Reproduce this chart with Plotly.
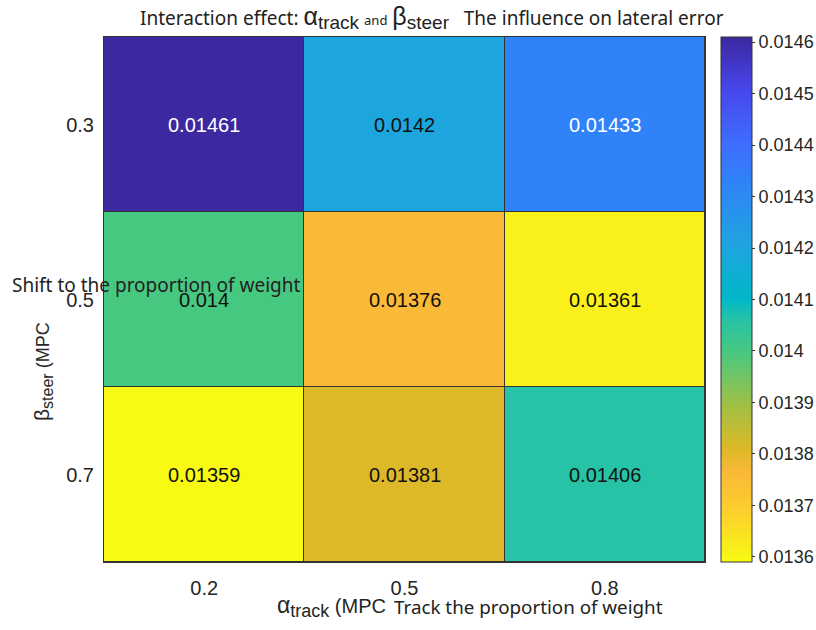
import plotly.graph_objects as go

# Weight levels and lateral-error results
alpha_track = ["0.2", "0.5", "0.8"]
beta_steer = ["0.3", "0.5", "0.7"]
lateral_error = [
    [0.01461, 0.0142, 0.01433],
    [0.014, 0.01376, 0.01361],
    [0.01359, 0.01381, 0.01406],
]
cbar_ticks = [0.0136, 0.0137, 0.0138, 0.0139, 0.014, 0.0141,
              0.0142, 0.0143, 0.0144, 0.0145, 0.0146]
z_min, z_max = 0.01359, 0.01461

# Parula-style map, reversed: yellow for low error, indigo for high error
parula_r = [
    [0.00, "rgb(248,250,20)"],
    [0.10, "rgb(252,206,46)"],
    [0.17, "rgb(250,185,55)"],
    [0.22, "rgb(218,185,40)"],
    [0.30, "rgb(160,192,70)"],
    [0.40, "rgb(72,200,128)"],
    [0.46, "rgb(40,195,165)"],
    [0.50, "rgb(0,184,200)"],
    [0.60, "rgb(30,165,222)"],
    [0.725, "rgb(48,130,248)"],
    [0.80, "rgb(63,108,253)"],
    [0.90, "rgb(71,70,235)"],
    [1.00, "rgb(60,40,160)"],
]

L, R, T, B = 104, 111, 37, 68
W, H = 816, 630
pw, ph = W - L - R, H - T - B


def px_x(x):
    return (x - L) / pw


def px_y(y):
    return (H - B - y) / ph


fig = go.Figure()
fig.add_trace(go.Heatmap(
    x=alpha_track, y=beta_steer, z=lateral_error,
    zmin=z_min, zmax=z_max, colorscale=parula_r,
    xgap=1, ygap=1,
    colorbar=dict(
        x=px_x(721), xanchor="left", xpad=0, ypad=0,
        y=0.5, yanchor="middle", len=1.0, lenmode="fraction",
        thickness=31, outlinewidth=1, outlinecolor="#333333",
        tickvals=cbar_ticks, ticktext=[f"{t:g}" for t in cbar_ticks],
        ticks="outside", ticklen=3, tickcolor="#333333",
        tickfont=dict(family="Liberation Sans, Arial", size=18, color="#262626"),
    ),
))

# Value labels in each cell (white on the darkest cells)
annotations = []
for i in range(len(beta_steer)):
    for j in range(len(alpha_track)):
        v = lateral_error[i][j]
        pos = (v - z_min) / (z_max - z_min)
        annotations.append(dict(
            x=j, y=i, xref="x", yref="y", text=f"{v:g}", showarrow=False,
            font=dict(family="Liberation Sans, Arial", size=20,
                      color="white" if pos > 0.7 else "#111111"),
        ))

greek = "font-family:Liberation Sans, Arial;"
txt_family = "Noto Sans, Open Sans, sans-serif"

# Title
annotations.append(dict(
    x=px_x(432), y=1.0, xref="paper", yref="paper", xanchor="center", yanchor="bottom",
    yshift=2, showarrow=False,
    font=dict(family=txt_family, size=19, color="#222222"),
    text=("Interaction effect: "
          f"<span style='{greek}font-size:25px'>α</span><sub><span style='{greek}font-size:19px'>track</span></sub>"
          " <span style='font-size:13px'>and</span> "
          f"<span style='{greek}font-size:25px'>β</span><sub><span style='{greek}font-size:19px'>steer</span></sub>"
          "&nbsp;&nbsp; The influence on lateral error"),
))

# X axis title pieces
annotations.append(dict(
    x=px_x(388), y=px_y(590), xref="paper", yref="paper", showarrow=False,
    xanchor="right", yanchor="top",
    text=(f"<span style='{greek}font-size:23px'>α</span><sub><span style='{greek}font-size:18px'>track</span></sub>"
          f"<span style='{greek}font-size:20px'> (MPC</span>"),
    font=dict(family="Liberation Sans, Arial", size=20, color="#262626"),
))
annotations.append(dict(
    x=px_x(392), y=px_y(592), xref="paper", yref="paper", showarrow=False,
    xanchor="left", yanchor="top",
    text="Track the proportion of weight",
    font=dict(family=txt_family, size=18.8, color="#222222"),
))

# Y axis title pieces
annotations.append(dict(
    x=px_x(43), y=px_y(372), xref="paper", yref="paper", showarrow=False, textangle=-90,
    xanchor="center", yanchor="middle",
    text=(f"<span style='{greek}font-size:21px'>β</span><sub><span style='{greek}font-size:16px'>steer</span></sub>"
          f"<span style='{greek}font-size:18px'> (MPC</span>"),
    font=dict(family="Liberation Sans, Arial", size=18, color="#262626"),
))
annotations.append(dict(
    x=px_x(10), y=px_y(285), xref="paper", yref="paper", showarrow=False,
    xanchor="left", yanchor="middle",
    text="Shift to the proportion of weight",
    font=dict(family=txt_family, size=19, color="#222222"),
))

tick_font = dict(family="Liberation Sans, Arial", size=20, color="#262626")
fig.update_layout(
    width=W, height=H,
    margin=dict(l=L, r=R, t=T, b=B, autoexpand=False),
    paper_bgcolor="white", plot_bgcolor="#333333",
    annotations=annotations,
    xaxis=dict(type="category", showgrid=False, zeroline=False, ticks="",
               tickfont=tick_font, ticklabelstandoff=8,
               showline=True, linecolor="#333333", linewidth=1, mirror=True),
    yaxis=dict(type="category", autorange="reversed", showgrid=False, zeroline=False,
               ticks="", tickfont=tick_font, ticklabelstandoff=5,
               showline=True, linecolor="#333333", linewidth=1, mirror=True),
)

fig.write_html("out.html")
